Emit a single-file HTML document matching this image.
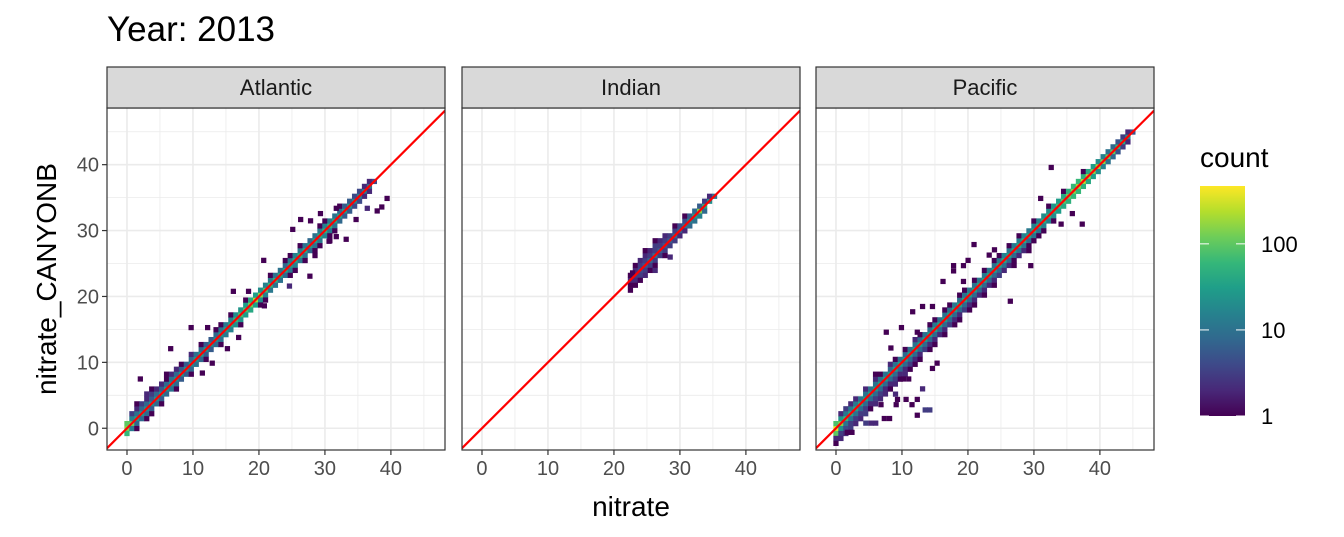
<!DOCTYPE html>
<html><head><meta charset="utf-8"><style>
body{margin:0;background:#fff;}
svg{display:block;font-family:"Liberation Sans",sans-serif;}
</style></head><body>
<svg id="chart" width="1344" height="537" viewBox="0 0 1344 537">
<text x="107" y="41" font-size="35" fill="#000">Year: 2013</text>
<g id="panels"></g>
<text x="631" y="516" font-size="28" text-anchor="middle" fill="#000">nitrate</text>
<text transform="translate(56,279) rotate(-90)" font-size="28" text-anchor="middle" fill="#000">nitrate_CANYONB</text>
<g id="legend"></g>
</svg>
<script>
const NS="http://www.w3.org/2000/svg";
// ---- data ----
const facets=["Atlantic","Indian","Pacific"];
const binWidth=0.75;
const xTicks=[0,10,20,30,40];
const yTicks=[0,10,20,30,40];
const legendTicks=[1,10,100];
const maxCount=470;
const atlStart=0;
const atlDiag=[150,120,30,25,20,20,20,20,25,20,20,25,20,20,25,30,25,20,20,25,30,40,60,80,80,120,200,150,80,60,50,40,35,30,40,50,40,30,35,40,50,50,40,35,30,25,20,15,15,10,4];
const atlUp1=[100,15,10,8,8,6,8,6,8,10,8,6,6,8,10,8,6,6,8,10,12,15,20,25,30,40,30,20,15,12,10,10,8,12,15,12,10,8,10,12,15,12,10,8,6,6,4,4,2,2,0];
const atlUp2=[0,3,2,3,2,3,2,2,1,2,2,1,0,2,0,1,0,0,1,1,0,1,0,0,1,0,0,0,0,1,0,0,1,1,0,1,0,0,0,1,1,0,0,1,0,0,0,0,0,0,0];
const atlUp3=[0,0,1,0,2,1,0,0,1,0,0,0,0,0,0,0,0,0,0,0,0,0,0,0,0,0,0,0,0,0,0,0,0,0,0,0,0,0,0,0,0,0,0,0,0,0,0,0,0,0,0];
const atlDn1=[60,12,8,8,8,6,8,6,8,10,8,6,6,8,10,8,6,6,8,10,12,15,20,25,30,40,30,20,15,12,10,10,8,12,15,12,10,8,10,12,15,12,10,8,6,6,4,4,2,2,0];
const atlDn2=[0,0,1,0,1,1,0,1,0,0,1,0,0,1,0,0,1,0,0,1,0,0,0,1,0,0,0,1,1,0,0,0,0,1,1,0,1,0,1,1,0,1,1,0,0,0,0,0,0,0,0];
const atlDn3=[0,0,0,0,0,0,0,0,0,0,0,0,0,0,0,0,0,0,0,0,0,0,0,0,0,0,0,0,0,0,0,0,0,0,0,0,0,0,1,0,0,1,0,0,0,0,0,0,0,0,0];
const atlOut=[[9.7,15.3,1],[12.2,15.3,1],[6.6,12.1,1],[16.1,20.8,1],[18.4,20.8,1],[20.7,25.5,1],[26.3,31.7,1],[27.8,31.5,1],[25.1,30.2,1],[29.3,32.6,1],[27.7,23.1,1],[33.2,28.7,1],[34.7,31.7,1],[36.4,33.4,2],[37.9,33,1],[39.4,34.9,1],[31.7,33.4,1],[2.0,7.5,1],[12.9,9.9,1],[11.4,8.4,1],[15.2,12.1,1],[16.9,13.8,1],[24.6,21.6,2],[20.8,18.6,1],[30.6,28.4,1],[31.7,29.1,1],[38.6,33.6,1]];
const indStart=30;
const indDiag=[2,3,4,5,8,10,6,5,6,8,6,10,15,30,150,40,20,10];
const indUp1=[1,2,3,3,3,3,3,3,3,3,4,4,6,8,6,3,2,0];
const indUp2=[0,1,2,2,2,3,2,2,0,1,0,1,0,0,0,0,0,0];
const indUp3=[0,0,0,1,0,1,0,0,0,0,0,0,0,0,0,0,0,0];
const indDn1=[1,2,3,3,3,3,3,3,3,3,2,2,8,10,15,8,0,0];
const indDn2=[1,1,1,2,1,1,0,1,0,0,0,0,0,0,0,0,0,0];
const indDn3=[0,0,0,0,0,2,0,0,0,0,0,0,0,0,0,0,0,0];
const indOut=[[28.5,26,2],[22.8,23.6,1]];
const pacStart=0;
const pacDiag=[400,150,60,40,35,35,30,30,28,30,30,28,30,30,28,30,32,30,30,32,35,35,30,30,32,35,35,30,32,35,35,35,32,35,40,35,35,40,40,35,40,40,45,50,50,70,90,120,150,200,250,200,150,200,150,120,100,60,40,20,5];
const pacUp1=[80,25,12,12,12,10,10,10,10,10,10,8,10,10,8,10,10,8,10,10,12,10,10,10,12,10,10,12,10,12,12,12,10,12,15,12,12,15,15,12,15,15,20,20,25,30,40,50,60,60,50,40,30,20,15,10,8,5,3,2,0];
const pacUp2=[0,2,3,2,2,0,2,0,2,1,0,2,1,0,1,0,2,1,0,1,1,0,1,1,0,1,1,0,1,0,1,0,1,1,0,1,0,1,0,0,1,0,0,1,0,0,1,0,0,0,1,0,0,0,0,0,0,0,0,0,0];
const pacUp3=[0,0,0,0,0,0,0,0,1,0,0,0,0,0,0,0,0,0,0,0,0,0,0,0,0,0,0,0,0,0,0,0,0,0,0,0,0,0,0,0,0,0,0,0,0,0,0,0,0,0,0,0,0,0,0,0,0,0,0,0,0];
const pacDn1=[100,20,10,10,10,8,8,8,8,8,8,8,8,8,8,8,8,8,8,8,8,8,8,8,8,8,8,8,8,8,8,8,8,8,10,8,8,10,10,8,10,10,15,15,20,30,40,50,60,60,50,40,30,20,15,10,8,5,3,2,0];
const pacDn2=[2,3,4,3,3,3,3,2,3,3,2,2,3,2,2,3,2,2,3,2,2,2,2,3,2,2,3,2,2,2,2,2,2,3,2,2,1,2,2,1,1,1,1,0,1,0,0,0,0,0,0,0,0,0,0,0,0,0,0,0,0];
const pacDn3=[1,2,2,3,2,2,3,1,2,2,2,1,2,1,2,1,1,1,0,1,1,0,1,0,1,1,0,1,1,0,1,0,1,0,0,0,1,0,0,1,0,0,0,0,0,0,0,0,0,0,0,0,0,0,0,0,0,0,0,0,0];
const pacOut=[[32.6,39.6,1],[31.0,34.9,1],[35.8,32.6,1],[34.1,31.0,1],[37.3,31.0,1],[20.9,27.9,1],[24.0,27.1,1],[23.2,26.3,1],[20.0,25.5,1],[17.8,24.7,1],[19.3,24.7,1],[17.8,23.9,1],[16.2,22.3,1],[19.3,22.3,1],[29.5,24.7,1],[26.4,19.3,1],[11.6,17.7,1],[13.1,18.5,1],[14.6,18.5,1],[7.6,14.6,1],[9.9,15.3,1],[12.3,14.6,1],[8.3,12.2,1],[15.3,9.9,1],[14.6,9.1,1],[13.1,6.0,2],[12.3,4.4,1],[6.8,3.6,1],[12.3,2.0,1],[13.5,2.8,3],[14.2,2.8,3],[1.7,-0.6,1],[2.4,-0.6,1],[9.3,4.4,1],[10.6,4.4,1],[11.5,3.6,1],[9.1,3.6,1],[8.1,1.5,1],[7.3,1.5,1],[9.0,5.2,2],[10.2,7.5,1],[11.0,7.5,1],[6.0,0.8,2],[5.3,0.8,2],[4.5,0.8,3]];
const panelData=[
 {start:atlStart,diag:atlDiag,up:[atlUp1,atlUp2,atlUp3],dn:[atlDn1,atlDn2,atlDn3],out:atlOut},
 {start:indStart,diag:indDiag,up:[indUp1,indUp2,indUp3],dn:[indDn1,indDn2,indDn3],out:indOut},
 {start:pacStart,diag:pacDiag,up:[pacUp1,pacUp2,pacUp3],dn:[pacDn1,pacDn2,pacDn3],out:pacOut}];
// ---- layout ----
const panelLeft=[107,462,816], panelW=338, plotTop=108, plotBot=450, stripTop=67;
const xMin=-3.03,xMax=48.2,yMin=-3.3,yMax=48.6;
function sx(i,v){return panelLeft[i]+(v-xMin)/(xMax-xMin)*panelW;}
function sy(v){return plotBot-(v-yMin)/(yMax-yMin)*(plotBot-plotTop);}
const vir=[[68,1,84],[72,40,120],[62,73,137],[49,104,142],[38,130,142],[31,158,137],[53,183,121],[109,205,89],[180,222,44],[253,231,37]];
function color(c){let t=Math.log10(c)/Math.log10(maxCount);t=Math.max(0,Math.min(1,t));const p=t*(vir.length-1),i=Math.min(Math.floor(p),vir.length-2),f=p-i;const a=vir[i],b=vir[i+1];return `rgb(${Math.round(a[0]+(b[0]-a[0])*f)},${Math.round(a[1]+(b[1]-a[1])*f)},${Math.round(a[2]+(b[2]-a[2])*f)})`;}
function el(tag,attrs,parent){const e=document.createElementNS(NS,tag);for(const k in attrs)e.setAttribute(k,attrs[k]);parent.appendChild(e);return e;}
const root=document.getElementById('panels');
facets.forEach((name,i)=>{
 const g=el('g',{},root);
 
 
 const L=panelLeft[i];
 el('rect',{x:L,y:plotTop,width:panelW,height:plotBot-plotTop,fill:'#fff'},g);
 const clip=el('clipPath',{id:'clip'+i},g);
 el('rect',{x:L,y:plotTop,width:panelW,height:plotBot-plotTop},clip);
 for(let v=-5;v<=50;v+=5){const major=v%10===0;
  const xx=sx(i,v); if(xx>L&&xx<L+panelW) el('line',{x1:xx,x2:xx,y1:plotTop,y2:plotBot,stroke:'#ebebeb','stroke-width':major?1.6:0.8},g);
  const yy=sy(v); if(yy>plotTop&&yy<plotBot) el('line',{x1:L,x2:L+panelW,y1:yy,y2:yy,stroke:'#ebebeb','stroke-width':major?1.6:0.8},g);}
 const cells=el('g',{'clip-path':`url(#clip${i})`},g);
 const d=panelData[i];
 function cell(x0,y0,c){if(!c)return;const r=el('rect',{x:sx(i,x0),y:sy(y0+binWidth),width:sx(i,x0+binWidth)-sx(i,x0)+0.3,height:sy(y0)-sy(y0+binWidth)+0.3,fill:color(c)},cells);
  
  }
 d.diag.forEach((c,j)=>{const k=d.start+j,x0=k*binWidth-0.4;
  cell(x0,x0,c);
  d.up.forEach((arr,o)=>cell(x0,x0+(o+1)*binWidth,arr[j]));
  d.dn.forEach((arr,o)=>cell(x0,x0-(o+1)*binWidth,arr[j]));});
 d.out.forEach(p=>cell(p[0]-binWidth/2,p[1]-binWidth/2,p[2]));
 const ln=el('line',{x1:sx(i,xMin),y1:sy(xMin),x2:sx(i,xMax),y2:sy(xMax),stroke:'#ff0000','stroke-width':2.2,'clip-path':`url(#clip${i})`},g);
 
 
 el('rect',{x:L,y:plotTop,width:panelW,height:plotBot-plotTop,fill:'none',stroke:'#333','stroke-width':1.2},g);
 const st=el('rect',{x:L,y:stripTop,width:panelW,height:plotTop-stripTop,fill:'#d9d9d9',stroke:'#333','stroke-width':1.2},g);
 
 
 const stt=el('text',{x:L+panelW/2,y:95,'font-size':22,'text-anchor':'middle',fill:'#1a1a1a'},g);stt.textContent=name;
 
 
 xTicks.forEach(v=>{const xx=sx(i,v);el('line',{x1:xx,x2:xx,y1:plotBot,y2:plotBot+5,stroke:'#333','stroke-width':1.2},g);
  const t=el('text',{x:xx,y:plotBot+25,'font-size':20,'text-anchor':'middle',fill:'#4d4d4d'},g);t.textContent=v;
  
  });
 if(i===0) yTicks.forEach(v=>{const yy=sy(v);el('line',{x1:L-5,x2:L,y1:yy,y2:yy,stroke:'#333','stroke-width':1.2},g);
  const t=el('text',{x:L-8,y:yy+7,'font-size':20,'text-anchor':'end',fill:'#4d4d4d'},g);t.textContent=v;
  
  });
});
const lg=document.getElementById('legend');
const lt=el('text',{x:1200,y:167,'font-size':28,fill:'#000'},lg);lt.textContent='count';


const barTop=186,barBot=416;
function ly(c){return barBot-Math.log10(c)/Math.log10(maxCount)*(barBot-barTop);}
const defs=el('defs',{},lg);const gr=el('linearGradient',{id:'vg',x1:0,y1:1,x2:0,y2:0},defs);
vir.forEach((c,j)=>el('stop',{offset:j/(vir.length-1),'stop-color':`rgb(${c})`},gr));
const bar=el('rect',{x:1200,y:barTop,width:45,height:barBot-barTop,fill:'url(#vg)'},lg);


legendTicks.forEach(c=>{const yy=ly(c);
 el('line',{x1:1200,x2:1209,y1:yy,y2:yy,stroke:'#fff','stroke-width':1},lg);
 el('line',{x1:1236,x2:1245,y1:yy,y2:yy,stroke:'#fff','stroke-width':1},lg);
 const t=el('text',{x:1261,y:yy+8,'font-size':22,fill:'#000'},lg);t.textContent=c;
 
 });
</script>
</body></html>
